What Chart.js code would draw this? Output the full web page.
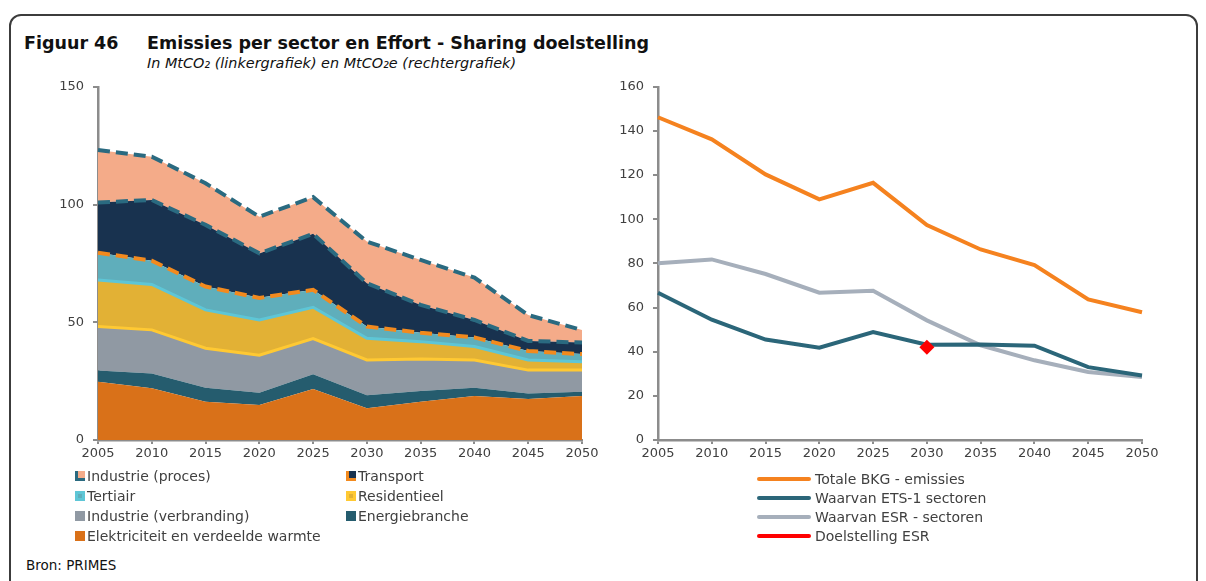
<!DOCTYPE html>
<html lang="nl">
<head>
<meta charset="utf-8">
<title>Figuur 46</title>
<script src="https://cdn.jsdelivr.net/npm/chart.js@4.4.1/dist/chart.umd.min.js"></script>
<style>
  body { margin: 0; background: #fff; font-family: 'DejaVu Sans', sans-serif; }
  #page { position: relative; width: 1206px; height: 581px; overflow: hidden; background: #fff; }
  #frame { position: absolute; left: 9px; top: 14px; width: 1185px; height: 640px; border: 2px solid #3c3c3c; border-radius: 12px; }
  #title { position: absolute; left: 24px; top: 33px; font-size: 17.5px; font-weight: bold; color: #111; white-space: nowrap; }
  #title .nr { display: inline-block; width: 123px; }
  #subtitle { position: absolute; left: 147px; top: 55px; font-size: 14.4px; font-style: italic; color: #111; white-space: nowrap; }
  #bron { position: absolute; left: 26px; top: 557px; font-size: 13.5px; color: #111; }
  canvas { position: absolute; }
  #leftChart { left: 40px; top: 70px; }
  #rightChart { left: 600px; top: 70px; }
  .leg { position: absolute; font-size: 14px; color: #404040; white-space: nowrap; line-height: 18px; }
  .leg .box { position: absolute; left: 0; top: 4px; width: 10px; height: 10px; box-sizing: border-box; }
  .leg .txt { position: absolute; left: 12px; top: 0; }
  .leg .line { position: absolute; left: 0; top: 7px; width: 54px; height: 4px; border-radius: 2px; }
  .leg .ltxt { position: absolute; left: 58px; top: 0; }
</style>
</head>
<body>
<div id="page">
  <div id="frame"></div>
  <div id="title"><span class="nr">Figuur 46</span>Emissies per sector en Effort - Sharing doelstelling</div>
  <div id="subtitle">In MtCO₂ (linkergrafiek) en MtCO₂e (rechtergrafiek)</div>
  <canvas id="leftChart" width="570" height="400"></canvas>
  <canvas id="rightChart" width="580" height="400"></canvas>
  <div id="bron">Bron: PRIMES</div>
</div>
<script>
// jaren op de x-as (beide grafieken)
const years = ['2005', '2010', '2015', '2020', '2025', '2030', '2035', '2040', '2045', '2050'];

// linkergrafiek: emissies per sector (MtCO2), van onder naar boven gestapeld
const elektriciteit = [24.8, 22.0, 16.3, 14.9, 21.7, 13.5, 16.3, 18.7, 17.4, 18.7];
const energiebranche = [4.7, 6.3, 5.9, 5.2, 6.2, 5.5, 4.5, 3.5, 2.4, 1.8];
const industrieVerbranding = [18.7, 18.5, 16.8, 15.9, 15.2, 15.0, 13.6, 11.8, 9.9, 9.2];
const residentieel = [19.8, 19.3, 16.3, 15.0, 13.3, 9.2, 7.4, 5.7, 4.3, 3.6];
const tertiair = [11.6, 10.1, 9.9, 9.4, 7.4, 5.0, 3.8, 3.9, 3.8, 3.2];
const transport = [21.3, 25.8, 26.2, 18.9, 23.8, 18.4, 11.8, 7.4, 4.3, 4.9];
const industrieProces = [22.3, 18.4, 17.7, 15.6, 15.6, 17.7, 19.1, 18.0, 11.0, 5.3];

// rechtergrafiek: totale BKG-emissies en verdeling (MtCO2e)
const totaleBKG = [146.2, 136.2, 120.3, 109.0, 116.5, 97.4, 86.3, 79.2, 63.7, 57.9];
const etsSectoren = [66.7, 54.5, 45.5, 41.8, 48.9, 43.2, 43.3, 42.7, 33.0, 29.2];
const esrSectoren = [80.1, 81.8, 75.2, 66.7, 67.6, 54.2, 42.9, 36.1, 30.8, 28.5];
const doelstellingESR = [null, null, null, null, null, 42.0, null, null, null, null];

const leftTicks = [0, 50, 100, 150];
const rightTicks = [0, 20, 40, 60, 80, 100, 120, 140, 160];

const axisGrey = '#8c8c8c';
const tickColor = '#404040';
const tickFont = { family: 'DejaVu Sans', size: 13 };

// sectoren (stapelvolgorde), met vulkleur en kleur van de bovenrand
const sectors = [
    { label: 'Elektriciteit en verdeelde warmte', data: elektriciteit, fill: '#d97119', edge: 'rgba(0,0,0,0)', width: 1, dash: [] },
    { label: 'Energiebranche', data: energiebranche, fill: '#255c6e', edge: 'rgba(0,0,0,0)', width: 1, dash: [] },
    { label: 'Industrie (verbranding)', data: industrieVerbranding, fill: '#9099a3', edge: '#ffc933', width: 3, dash: [] },
    { label: 'Residentieel', data: residentieel, fill: '#e2b135', edge: '#5ec6d6', width: 3, dash: [] },
    { label: 'Tertiair', data: tertiair, fill: '#5faebb', edge: '#f28a1e', width: 4, dash: [12, 6] },
    { label: 'Transport', data: transport, fill: '#18324f', edge: '#2a6a80', width: 4, dash: [12, 6] },
    { label: 'Industrie (proces)', data: industrieProces, fill: '#f4ab89', edge: '#2a6a80', width: 4, dash: [12, 6] }
];

// legendeblokjes: vulling + randkleur zoals in de reeksopmaak
const legendBoxes = {
    'Industrie (proces)': { bg: '#f4ab89', border: '#2a6a80', lshape: true },
    'Transport': { bg: '#18324f', border: '#f28a1e', lshape: true },
    'Tertiair': { bg: '#5faebb', border: '#5ec6d6' },
    'Residentieel': { bg: '#e2b135', border: '#ffc933' },
    'Industrie (verbranding)': { bg: '#9099a3' },
    'Energiebranche': { bg: '#255c6e' },
    'Elektriciteit en verdeelde warmte': { bg: '#d97119' }
};

const lines = [
    { label: 'Totale BKG - emissies', data: totaleBKG, color: '#f5821f' },
    { label: 'Waarvan ETS-1 sectoren', data: etsSectoren, color: '#2b6679' },
    { label: 'Waarvan ESR - sectoren', data: esrSectoren, color: '#a6afbb' },
    { label: 'Doelstelling ESR', data: doelstellingESR, color: '#ff0000' }
];

const axisOptions = (ticks, yWidth) => ({
    x: {
        type: 'category',
        offset: false,
        border: { color: axisGrey, width: 2.5 },
        grid: { drawOnChartArea: false, color: axisGrey, tickLength: 4, lineWidth: 2 },
        ticks: { color: tickColor, font: tickFont, padding: 2, maxRotation: 0, autoSkip: false },
        afterFit: (scale) => { scale.height = 30; }
    },
    y: {
        min: ticks[0],
        max: ticks[ticks.length - 1],
        border: { color: axisGrey, width: 2.5 },
        grid: { drawOnChartArea: false, color: axisGrey, tickLength: 5, lineWidth: 2 },
        ticks: { color: tickColor, font: tickFont, padding: 9, stepSize: ticks[1] - ticks[0] },
        afterFit: (scale) => { scale.width = yWidth; }
    }
});

const leftAxes = axisOptions(leftTicks, 58);
leftAxes.y.stacked = true;

new Chart(document.getElementById('leftChart').getContext('2d'), {
    type: 'line',
    data: {
        labels: years,
        datasets: sectors.map((s, i) => ({
            label: s.label,
            data: s.data,
            backgroundColor: s.fill,
            borderColor: s.edge,
            borderWidth: s.width,
            borderDash: s.dash,
            borderCapStyle: 'butt',
            fill: i === 0 ? 'origin' : '-1',
            tension: 0,
            pointRadius: 0
        }))
    },
    options: {
        responsive: false,
        animation: false,
        layout: { padding: { top: 17, right: 28, left: 0, bottom: 0 } },
        plugins: { legend: { display: false }, tooltip: { enabled: false } },
        scales: leftAxes
    }
});

new Chart(document.getElementById('rightChart').getContext('2d'), {
    type: 'line',
    data: {
        labels: years,
        datasets: lines.map(l => {
            const isTarget = l.label === 'Doelstelling ESR';
            return {
                label: l.label,
                data: l.data,
                borderColor: l.color,
                backgroundColor: l.color,
                borderWidth: 4,
                tension: 0,
                fill: false,
                pointRadius: isTarget ? 7.5 : 0,
                pointStyle: 'rectRot',
                pointBorderWidth: 0,
                order: isTarget ? -1 : 0 // ruit bovenop de lijnen
            };
        })
    },
    options: {
        responsive: false,
        animation: false,
        layout: { padding: { top: 16, right: 38, left: 0, bottom: 0 } },
        plugins: { legend: { display: false }, tooltip: { enabled: false } },
        scales: axisOptions(rightTicks, 58)
    }
});

// HTML-legendes onder de grafieken
const page = document.getElementById('page');

sectors.slice().reverse().forEach((s, i) => {
    const box = legendBoxes[s.label];
    const item = document.createElement('div');
    item.className = 'leg';
    item.style.left = (i % 2 === 0 ? 75 : 346) + 'px';
    item.style.top = (467 + Math.floor(i / 2) * 20) + 'px';
    let boxStyle = `background:${box.bg};`;
    if (box.border && box.lshape) {
        boxStyle += `border-left:3px solid ${box.border};border-bottom:3px solid ${box.border};`;
    } else if (box.border) {
        boxStyle += `border:3px solid ${box.border};`;
    }
    item.innerHTML = `<span class="box" style="${boxStyle}"></span><span class="txt">${s.label}</span>`;
    page.appendChild(item);
});

lines.forEach((l, i) => {
    const item = document.createElement('div');
    item.className = 'leg';
    item.style.left = '757px';
    item.style.top = (470 + i * 19) + 'px';
    item.innerHTML = `<span class="line" style="background:${l.color}"></span><span class="ltxt">${l.label}</span>`;
    page.appendChild(item);
});
</script>
</body>
</html>
